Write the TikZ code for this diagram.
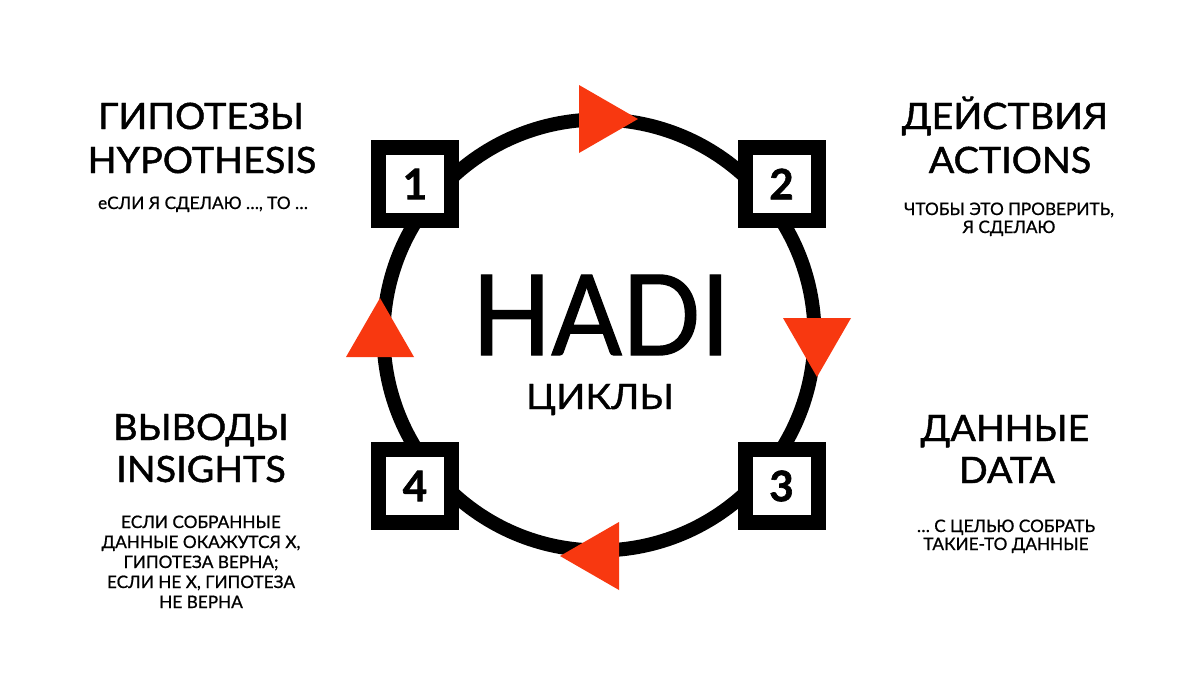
\documentclass[tikz,border=0pt]{standalone}
\usepackage{fontspec}
\setmainfont{Lato}
\newfontfamily\hadifont{Lato}[FakeStretch=0.93, FakeBold=1.2]
\newfontfamily\headfont{Lato}[FakeStretch=1.04, FakeBold=1.3]
\newfontfamily\subfont{Lato}[FakeBold=0.8]
\newfontfamily\ciklfont{Lato}[FakeStretch=1.1, FakeBold=1]
\newfontfamily\numfont{Lato Bold}[FakeBold=1.5]
\definecolor{arrowred}{RGB}{248,56,16}
\tikzset{
  ring/.style={line width=14pt, draw=black},
  numbox/.style={draw=black, fill=white, line width=15pt, minimum size=73pt, inner sep=0pt,
    font=\numfont\fontsize{42}{42}\selectfont},
  head/.style={anchor=base, inner sep=0pt, font=\headfont\fontsize{36.3}{40}\selectfont},
  sub/.style={anchor=base, inner sep=0pt, font=\subfont\fontsize{17.2}{20}\selectfont},
  tri/.style={fill=arrowred, draw=none},
}
\begin{document}
\begin{tikzpicture}[x=1pt,y=-1pt]
\useasboundingbox (0,0) rectangle (1200,675);
\fill[white] (0,0) rectangle (1200,675);

% ring
\coordinate (c) at (599,335);
\draw[ring] (c) circle[radius=215.5];

% boxes
\node[numbox] (b1) at (415,184) {1};
\node[numbox] (b2) at (781.5,184) {2};
\node[numbox] (b3) at (781.5,486) {3};
\node[numbox] (b4) at (415,486) {4};

% arrow triangles
\fill[tri] (579,85) -- (579,153) -- (638,119) -- cycle;
\fill[tri] (783,318) -- (851,318) -- (817,377) -- cycle;
\fill[tri] (619,522) -- (619,590) -- (560,556) -- cycle;
\fill[tri] (346,357) -- (414,357) -- (380,298) -- cycle;

% centre
\node[anchor=base, inner sep=0pt, font=\hadifont\fontsize{111.7}{112}\selectfont] (hadi) at (601,355) {HADI};
\node[anchor=base, inner sep=0pt, font=\ciklfont\fontsize{35}{36}\selectfont] (cikly) at (600,409) {ЦИКЛЫ};

% top left
\node[head] (h1a) at (201,129) {ГИПОТЕЗЫ};
\node[head] (h1b) at (202,173) {HYPOTHESIS};
\node[sub] (s1a) at (203,209) {еСЛИ Я СДЕЛАЮ …, ТО …};

% top right
\node[head] (h2a) at (1005,129) {ДЕЙСТВИЯ};
\node[head] (h2b) at (1010,173) {ACTIONS};
\node[sub] (s2a) at (1009,215) {ЧТОБЫ ЭТО ПРОВЕРИТЬ,};
\node[sub] (s2b) at (1009,233) {Я СДЕЛАЮ};

% bottom right
\node[head] (h3a) at (1005,441) {ДАННЫЕ};
\node[head] (h3b) at (1007,483) {DATA};
\node[sub] (s3a) at (1006,532) {… С ЦЕЛЬЮ СОБРАТЬ};
\node[sub] (s3b) at (1006,550) {ТАКИЕ-ТО ДАННЫЕ};

% bottom left
\node[head] (h4a) at (201,440) {ВЫВОДЫ};
\node[head] (h4b) at (201,482) {INSIGHTS};
\node[sub] (s4a) at (201,528) {ЕСЛИ СОБРАННЫЕ};
\node[sub] (s4b) at (201,548) {ДАННЫЕ ОКАЖУТСЯ Х,};
\node[sub] (s4c) at (201,568) {ГИПОТЕЗА ВЕРНА;};
\node[sub] (s4d) at (201,588) {ЕСЛИ НЕ Х, ГИПОТЕЗА};
\node[sub] (s4e) at (201,608) {НЕ ВЕРНА};
\end{tikzpicture}
\end{document}
